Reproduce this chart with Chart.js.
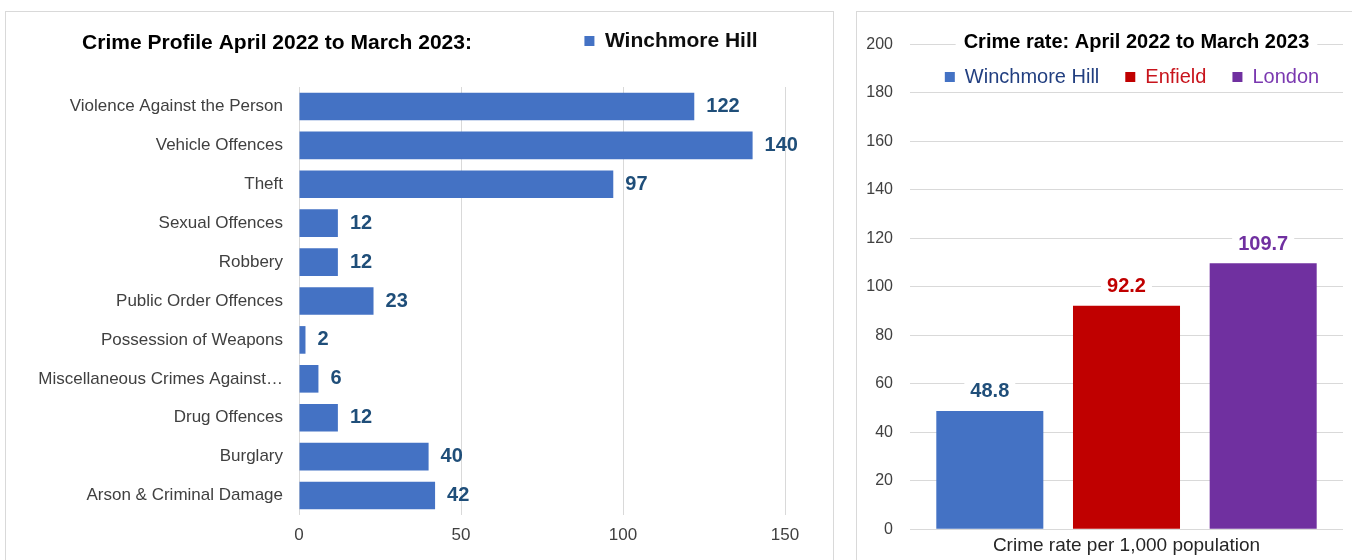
<!DOCTYPE html>
<html>
<head>
<meta charset="utf-8">
<script src="https://cdn.jsdelivr.net/npm/chart.js@4.4.1/dist/chart.umd.min.js"></script>
<style>
  body { margin: 0; background: #fff; width: 1352px; height: 560px; overflow: hidden; position: relative; }
  .panel { position: absolute; top: 11px; height: 600px; border: 1px solid #d9d9d9; background: #fff; }
  #leftPanel { left: 5px; width: 827px; }
  #rightPanel { left: 856px; width: 600px; }
  .box { position: absolute; top: 0; left: 0; height: 548px; }
  #leftPanel .box { width: 827px; }
  #rightPanel .box { width: 495px; }
</style>
</head>
<body>
<div class="panel" id="leftPanel"><div class="box"><canvas id="profileChart"></canvas></div></div>
<div class="panel" id="rightPanel"><div class="box"><canvas id="rateChart"></canvas></div></div>

<script>
// crime profile (counts)
const crimeTypes = [
  "Violence Against the Person",
  "Vehicle Offences",
  "Theft",
  "Sexual Offences",
  "Robbery",
  "Public Order Offences",
  "Possession of Weapons",
  "Miscellaneous Crimes Against…",
  "Drug Offences",
  "Burglary",
  "Arson & Criminal Damage"
];
const crimeCounts = [122, 140, 97, 12, 12, 23, 2, 6, 12, 40, 42];
const countTicks = [0, 50, 100, 150];

// crime rate per 1,000
const rateCategory = ["Crime rate per 1,000 population"];
const areas = ["Winchmore Hill", "Enfield", "London"];
const rates = [48.8, 92.2, 109.7];
const rateTicks = [0, 20, 40, 60, 80, 100, 120, 140, 160, 180, 200];

const FONT = "'Liberation Sans', Arial, sans-serif";
const BLUE = "#4472C4", RED = "#C00000", PURPLE = "#7030A0";
const areaColors = [BLUE, RED, PURPLE];
const areaTextColors = ["#223f80", "#c8141c", "#7a38b0"];
const labelColors = ["#1F4E79", "#C00000", "#7030A0"];

// move title / legend to where the original has them
const placeHeader = {
  id: "placeHeader",
  afterLayout(chart, args, opts) {
    const w = chart.width;
    const t = chart.titleBlock, l = chart.legend;
    if (t && opts.title) {
      const h = t.height;
      t.top = opts.title.y - h / 2; t.bottom = t.top + h;
      t.left = opts.title.x - w / 2; t.right = opts.title.x + w / 2;
    }
    if (l && opts.legend) {
      const p = l.options.labels.padding, fs = l.options.labels.font.size;
      l.top = opts.legend.y - p - fs / 2; l.bottom = l.top + fs + 2 * p;
      l.left = opts.legend.x - w / 2; l.right = opts.legend.x + w / 2;
    }
  }
};

// white box behind the title so the top gridline stops at it
const titleBackdrop = {
  id: "titleBackdrop",
  afterDraw(chart) {
    const t = chart.titleBlock;
    const ctx = chart.ctx;
    ctx.save();
    ctx.font = "bold 20px " + FONT;
    const tw = ctx.measureText(t.options.text).width;
    const cx = (t.left + t.right) / 2, cy = (t.top + t.bottom) / 2;
    ctx.fillStyle = "#fff";
    ctx.fillRect(cx - tw / 2 - 8, cy - 13, tw + 16, 26);
    ctx.restore();
    t.draw();
  }
};

// data labels
const valueLabels = {
  id: "valueLabels",
  afterDatasetsDraw(chart, args, opts) {
    const ctx = chart.ctx;
    ctx.save();
    ctx.font = "bold 20px " + FONT;
    ctx.textBaseline = "middle";
    chart.data.datasets.forEach((ds, i) => {
      chart.getDatasetMeta(i).data.forEach((bar, j) => {
        const v = ds.data[j];
        const text = opts.decimals ? v.toFixed(opts.decimals) : String(v);
        let x, y;
        if (opts.horizontal) {
          x = bar.x + opts.offset; y = bar.y; ctx.textAlign = "left";
        } else {
          x = bar.x; y = bar.y - opts.offset; ctx.textAlign = "center";
        }
        if (opts.backdrop) {
          const tw = ctx.measureText(text).width;
          ctx.fillStyle = "#fff";
          ctx.fillRect(x - tw / 2 - 6, y - 12, tw + 12, 24);
        }
        ctx.fillStyle = opts.colors[i];
        ctx.fillText(text, x, y);
      });
    });
    ctx.restore();
  }
};

new Chart(document.getElementById("profileChart"), {
  type: "bar",
  data: {
    labels: crimeTypes,
    datasets: [{
      label: "Winchmore Hill",
      data: crimeCounts,
      backgroundColor: BLUE,
      borderWidth: 0,
      barPercentage: 0.71,
      categoryPercentage: 1
    }]
  },
  options: {
    indexAxis: "y",
    responsive: true,
    maintainAspectRatio: false,
    animation: false,
    layout: { padding: { top: 48.8, right: 48, bottom: 0, left: 0 } },
    scales: {
      x: {
        min: 0, max: 150,
        afterBuildTicks: s => { s.ticks = countTicks.map(v => ({ value: v })); },
        afterFit: s => { s.height = 45; },
        grid: { color: "#d9d9d9", drawTicks: false },
        border: { display: false },
        ticks: { padding: 10, color: "#404040", font: { family: FONT, size: 17 } }
      },
      y: {
        afterFit: s => { s.width = 293; },
        grid: { display: false, drawTicks: false },
        border: { display: false },
        ticks: { padding: 16, color: "#404040", font: { family: FONT, size: 17 } }
      }
    },
    plugins: {
      title: {
        display: true,
        text: "Crime Profile April 2022 to March 2023:",
        color: "#000",
        padding: 0,
        font: { family: FONT, size: 21, weight: "bold" }
      },
      legend: {
        display: true,
        maxHeight: 1,
        labels: {
          boxWidth: 10, boxHeight: 10, padding: 10,
          color: "#0d0d0d",
          font: { family: FONT, size: 21, weight: "bold" }
        }
      },
      tooltip: { enabled: false },
      placeHeader: { title: { x: 271, y: 31 }, legend: { x: 665, y: 29 } },
      valueLabels: { horizontal: true, offset: 12, colors: [labelColors[0]] }
    }
  },
  plugins: [placeHeader, valueLabels]
});

new Chart(document.getElementById("rateChart"), {
  type: "bar",
  data: {
    labels: rateCategory,
    datasets: areas.map((name, i) => ({
      label: name,
      data: [rates[i]],
      backgroundColor: areaColors[i],
      borderWidth: 0,
      barPercentage: 0.783,
      categoryPercentage: 0.947
    }))
  },
  options: {
    responsive: true,
    maintainAspectRatio: false,
    animation: false,
    layout: { padding: { top: 7.3, right: 9, bottom: 0, left: 0 } },
    scales: {
      x: {
        afterFit: s => { s.height = 30.7; },
        grid: { display: false, drawTicks: false },
        border: { display: false },
        ticks: { padding: 5, color: "#262626", font: { family: FONT, size: 19 } }
      },
      y: {
        min: 0, max: 200,
        afterBuildTicks: s => { s.ticks = rateTicks.map(v => ({ value: v })); },
        afterFit: s => { s.width = 53; },
        grid: { color: "#d9d9d9", drawTicks: false },
        border: { display: false },
        ticks: { padding: 17, color: "#404040", font: { family: FONT, size: 16 } }
      }
    },
    plugins: {
      title: {
        display: true,
        text: "Crime rate: April 2022 to March 2023",
        color: "#000",
        padding: 0,
        font: { family: FONT, size: 20, weight: "bold" }
      },
      legend: {
        display: true,
        maxHeight: 1,
        labels: {
          boxWidth: 10, boxHeight: 10, padding: 26,
          font: { family: FONT, size: 20 },
          generateLabels(chart) {
            const items = Chart.defaults.plugins.legend.labels.generateLabels(chart);
            items.forEach((it, i) => { it.fontColor = areaTextColors[i]; it.lineWidth = 0; });
            return items;
          }
        }
      },
      tooltip: { enabled: false },
      placeHeader: { title: { x: 279.5, y: 30 }, legend: { x: 275, y: 65 } },
      valueLabels: { horizontal: false, offset: 19, decimals: 1, backdrop: true, colors: labelColors }
    }
  },
  plugins: [placeHeader, titleBackdrop, valueLabels]
});
</script>
</body>
</html>
